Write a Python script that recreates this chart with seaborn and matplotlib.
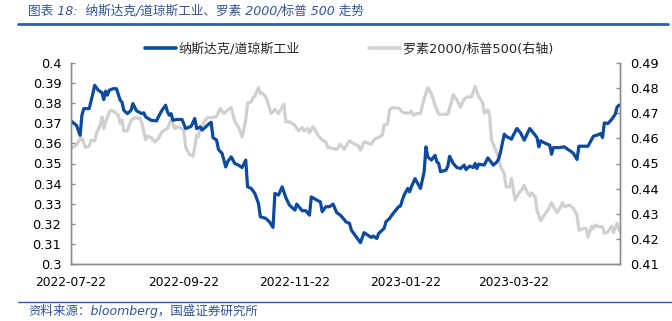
import numpy as np
import pandas as pd
import matplotlib
matplotlib.use("Agg")
import matplotlib.pyplot as plt
import seaborn as sns
from matplotlib.lines import Line2D

# ---------------- data ----------------
start_date = "2022-07-22"

ndx_dji_days = [0, 3, 5, 6, 7, 10, 12, 13, 15, 17, 18, 19, 20, 21, 23, 25, 27, 28, 29, 31,
                33, 34, 36, 39, 40, 41, 44, 47, 48, 50, 52, 53, 54, 55, 56, 58, 61, 63, 66, 68,
                69, 71, 72, 74, 76, 77, 78, 80, 81, 83, 85, 86, 88, 90, 92, 94, 96, 97, 99, 101,
                103, 104, 107, 109, 111, 112, 114, 116, 118, 120, 123, 124, 127, 129, 131, 132, 135, 137, 138, 140,
                142, 144, 146, 148, 150, 151, 153, 154, 156, 158, 159, 161, 163, 165, 166, 168, 169, 172, 173, 175,
                177, 180, 181, 182, 183, 185, 186, 187, 189, 191, 192, 194, 195, 196, 198, 200, 201, 202, 203, 206,
                207, 208, 210, 212, 214, 216, 217, 219, 221, 222, 223, 224, 227, 229, 232, 234, 235, 236, 238, 239,
                242, 243, 245, 247, 249, 252, 254, 256, 257, 258, 260, 263, 264, 265, 268, 271, 273, 275, 276, 278,
                279, 282, 284, 287, 289, 291, 292, 293, 295, 297, 299, 300, 301, 302]
ndx_dji_ratio = [0.3712, 0.3690, 0.3640, 0.3740, 0.3773, 0.3773, 0.3848, 0.3889, 0.3864, 0.3853,
                 0.3818, 0.3860, 0.3840, 0.3864, 0.3872, 0.3872, 0.3815, 0.3806, 0.3765, 0.3748,
                 0.3765, 0.3798, 0.3762, 0.3748, 0.3752, 0.3732, 0.3715, 0.3712, 0.3732, 0.3765,
                 0.3790, 0.3757, 0.3740, 0.3748, 0.3715, 0.3719, 0.3719, 0.3674, 0.3685, 0.3724,
                 0.3674, 0.3682, 0.3666, 0.3682, 0.3699, 0.3705, 0.3629, 0.3616, 0.3570, 0.3550,
                 0.3483, 0.3508, 0.3533, 0.3500, 0.3492, 0.3480, 0.3517, 0.3384, 0.3376, 0.3351,
                 0.3301, 0.3235, 0.3227, 0.3210, 0.3182, 0.3351, 0.3343, 0.3384, 0.3331, 0.3293,
                 0.3268, 0.3298, 0.3265, 0.3265, 0.3243, 0.3334, 0.3318, 0.3309, 0.3260, 0.3285,
                 0.3285, 0.3298, 0.3255, 0.3243, 0.3222, 0.3210, 0.3202, 0.3169, 0.3144, 0.3119,
                 0.3106, 0.3156, 0.3144, 0.3132, 0.3139, 0.3127, 0.3152, 0.3177, 0.3210, 0.3227,
                 0.3252, 0.3285, 0.3288, 0.3318, 0.3343, 0.3376, 0.3359, 0.3384, 0.3425, 0.3392,
                 0.3376, 0.3459, 0.3583, 0.3533, 0.3517, 0.3541, 0.3508, 0.3500, 0.3459, 0.3467,
                 0.3487, 0.3536, 0.3500, 0.3480, 0.3475, 0.3492, 0.3470, 0.3487, 0.3480, 0.3500,
                 0.3475, 0.3497, 0.3492, 0.3528, 0.3492, 0.3508, 0.3525, 0.3558, 0.3646, 0.3636,
                 0.3621, 0.3641, 0.3674, 0.3652, 0.3616, 0.3674, 0.3652, 0.3629, 0.3583, 0.3613,
                 0.3603, 0.3591, 0.3546, 0.3579, 0.3579, 0.3583, 0.3570, 0.3558, 0.3550, 0.3520,
                 0.3586, 0.3586, 0.3586, 0.3636, 0.3641, 0.3649, 0.3629, 0.3702, 0.3699, 0.3719,
                 0.3745, 0.3781, 0.3790, 0.3790]

rty_spx_days = [0, 3, 5, 6, 8, 10, 11, 13, 14, 16, 17, 18, 19, 21, 22, 24, 26, 27, 28, 29,
                31, 33, 35, 38, 39, 41, 42, 44, 46, 48, 50, 51, 53, 55, 57, 59, 61, 62, 63, 65,
                67, 68, 69, 70, 71, 72, 74, 75, 78, 80, 82, 84, 86, 88, 90, 92, 94, 96, 97, 99,
                100, 101, 103, 104, 105, 107, 108, 110, 112, 114, 115, 117, 118, 120, 123, 125, 127, 128, 130, 131,
                133, 134, 136, 138, 140, 141, 144, 146, 148, 150, 152, 153, 155, 158, 159, 161, 163, 165, 167, 169,
                171, 172, 174, 175, 176, 180, 182, 184, 186, 187, 188, 190, 192, 194, 196, 198, 200, 202, 205, 207,
                209, 210, 212, 214, 216, 218, 220, 222, 224, 226, 227, 229, 230, 231, 233, 235, 236, 238, 239, 241,
                242, 244, 246, 248, 249, 250, 252, 253, 255, 256, 258, 260, 262, 264, 265, 267, 269, 270, 271, 274,
                276, 278, 279, 282, 283, 284, 286, 287, 288, 290, 292, 293, 295, 297, 298, 300, 301, 302]
rty_spx_ratio = [0.4560, 0.4573, 0.4599, 0.4599, 0.4564, 0.4569, 0.4593, 0.4590, 0.4619, 0.4652,
                 0.4685, 0.4639, 0.4666, 0.4705, 0.4712, 0.4705, 0.4692, 0.4659, 0.4672, 0.4630,
                 0.4630, 0.4672, 0.4683, 0.4679, 0.4659, 0.4595, 0.4609, 0.4603, 0.4586, 0.4599,
                 0.4626, 0.4632, 0.4639, 0.4675, 0.4639, 0.4646, 0.4639, 0.4632, 0.4564, 0.4537,
                 0.4529, 0.4566, 0.4613, 0.4606, 0.4646, 0.4650, 0.4675, 0.4683, 0.4683, 0.4688,
                 0.4719, 0.4699, 0.4712, 0.4723, 0.4666, 0.4646, 0.4606, 0.4672, 0.4741, 0.4745,
                 0.4762, 0.4768, 0.4802, 0.4778, 0.4781, 0.4765, 0.4745, 0.4699, 0.4715, 0.4699,
                 0.4712, 0.4736, 0.4666, 0.4666, 0.4652, 0.4630, 0.4643, 0.4630, 0.4639, 0.4622,
                 0.4646, 0.4635, 0.4609, 0.4593, 0.4586, 0.4564, 0.4560, 0.4556, 0.4577, 0.4556,
                 0.4580, 0.4590, 0.4580, 0.4569, 0.4553, 0.4586, 0.4582, 0.4577, 0.4599, 0.4603,
                 0.4613, 0.4652, 0.4659, 0.4712, 0.4721, 0.4721, 0.4705, 0.4701, 0.4701, 0.4709,
                 0.4692, 0.4699, 0.4699, 0.4758, 0.4802, 0.4778, 0.4732, 0.4696, 0.4696, 0.4696,
                 0.4745, 0.4774, 0.4752, 0.4725, 0.4758, 0.4765, 0.4765, 0.4807, 0.4765, 0.4745,
                 0.4701, 0.4715, 0.4688, 0.4593, 0.4560, 0.4520, 0.4487, 0.4460, 0.4407, 0.4407,
                 0.4440, 0.4354, 0.4381, 0.4401, 0.4414, 0.4394, 0.4370, 0.4383, 0.4367, 0.4315,
                 0.4272, 0.4295, 0.4315, 0.4344, 0.4330, 0.4304, 0.4328, 0.4344, 0.4328, 0.4334,
                 0.4321, 0.4295, 0.4235, 0.4242, 0.4242, 0.4206, 0.4251, 0.4242, 0.4255, 0.4248,
                 0.4248, 0.4222, 0.4228, 0.4251, 0.4225, 0.4262, 0.4235, 0.4228]

xtick_labels = ["2022-07-22", "2022-09-22", "2022-11-22", "2023-01-22", "2023-03-22"]
left_ticks = [0.30, 0.31, 0.32, 0.33, 0.34, 0.35, 0.36, 0.37, 0.38, 0.39, 0.40]
right_ticks = [0.41, 0.42, 0.43, 0.44, 0.45, 0.46, 0.47, 0.48, 0.49]

label_blue = "纳斯达克/道琼斯工业"
label_gray = "罗素2000/标普500(右轴)"
title = "图表 18:  纳斯达克/道琼斯工业、罗素 2000/标普 500 走势"
source = "资料来源：bloomberg，国盛证券研究所"

# ---------------- frames ----------------
t0 = pd.Timestamp(start_date)
df_blue = pd.DataFrame({"date": t0 + pd.to_timedelta(ndx_dji_days, unit="D"),
                        "value": ndx_dji_ratio})
df_gray = pd.DataFrame({"date": t0 + pd.to_timedelta(rty_spx_days, unit="D"),
                        "value": rty_spx_ratio})

sns.set_style("white")
FAM = ["DejaVu Sans", "Noto Sans CJK SC"]
plt.rcParams["font.family"] = FAM

BLUE = "#0B4A9E"
GRAY = "#D0D0D0"
TXT_BLUE = "#2F5597"
SPINE = "#8C8C8C"
W, H = 672, 321

fig = plt.figure(figsize=(W / 100, H / 100), dpi=100)
ax = fig.add_axes([71 / W, 1 - 264 / H, (620 - 71) / W, (264 - 63) / H])
ax2 = ax.twinx()

sns.lineplot(data=df_gray, x="date", y="value", ax=ax2, color=GRAY, lw=2.3, legend=False)
sns.lineplot(data=df_blue, x="date", y="value", ax=ax, color=BLUE, lw=2.3, legend=False)
ax.set_zorder(ax2.get_zorder() + 1)
ax.patch.set_visible(False)

end_date = t0 + pd.Timedelta(days=301.6)
ax.set_xlim(t0, end_date)
ax.set_ylim(0.30, 0.40)
ax2.set_ylim(0.41, 0.49)

ax.set_xticks([pd.Timestamp(s) for s in xtick_labels])
ax.set_xticklabels(xtick_labels)
ax.set_yticks(left_ticks)
ax.set_yticklabels([f"{v:g}" for v in left_ticks])
ax2.set_yticks(right_ticks)
ax2.set_yticklabels([f"{v:g}" for v in right_ticks])

for a in (ax, ax2):
    a.set_xlabel("")
    a.set_ylabel("")
    for s in a.spines.values():
        s.set_color(SPINE)
        s.set_linewidth(1.0)
    a.spines["top"].set_visible(False)
    a.tick_params(axis="both", direction="in", length=3, width=1, color=SPINE,
                  labelsize=9.3, labelcolor="#000000")
    a.grid(False)
ax.tick_params(axis="x", pad=9, labelsize=8.8)
ax.tick_params(axis="y", pad=7)
ax2.tick_params(axis="y", pad=7)

# legend (two entries placed like the reference)
leg_kw = dict(loc="center left", frameon=False, borderpad=0, borderaxespad=0,
              handlelength=2.4, handletextpad=0.2,
              prop={"family": FAM, "size": 9.4})
leg1 = fig.legend([Line2D([], [], color=BLUE, lw=2.6)], [label_blue],
                  bbox_to_anchor=(145 / W, 1 - 49 / H), **leg_kw)
leg2 = fig.legend([Line2D([], [], color=GRAY, lw=2.6)], [label_gray],
                  bbox_to_anchor=(369 / W, 1 - 49 / H), **leg_kw)

# title & source
fig.text(28 / W, 1 - 11 / H, title, ha="left", va="center", fontsize=9.1,
         color=TXT_BLUE, style="italic", family=FAM)
fig.add_artist(Line2D([18 / W, 668 / W], [1 - 24 / H, 1 - 24 / H],
                      color="#2E5FAA", lw=2.0, transform=fig.transFigure))
fig.add_artist(Line2D([18 / W, 1.0], [1 - 302 / H, 1 - 302 / H],
                      color="#2E5FAA", lw=1.0, transform=fig.transFigure))
fig.text(28 / W, 1 - 311 / H, source, ha="left", va="center", fontsize=9,
         color=TXT_BLUE, style="italic", family=FAM)

fig.savefig("out.png", dpi=100)
